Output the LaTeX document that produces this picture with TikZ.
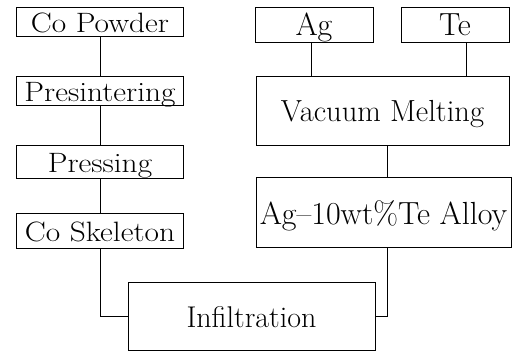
\documentclass[tikz,border=0pt]{standalone}
\usepackage{fontspec}
\usepackage{graphicx}
\newcommand\widetext[1]{\scalebox{1.12}[1]{#1}}
\newcommand\heavy{\addfontfeatures{FakeBold=0.5}}
\begin{document}
\begin{tikzpicture}[x=1pt,y=-1pt,line width=1pt,
  box/.style={draw,rectangle,inner sep=0pt,outer sep=0pt,text depth=0pt,text height=21pt},
  leftbox/.style={box,font=\fontsize{28}{30}\selectfont\heavy,minimum width=167pt},
  rightbox/.style={box,font=\fontsize{32}{34}\selectfont\heavy}]
\useasboundingbox (0,0) rectangle (515,351);

% Cobalt skeleton route
\node[leftbox,minimum height=29pt] (copowder) at (100,21.5) {\widetext{Co Powder}};
\node[leftbox,minimum height=29pt] (presinter) at (100,90.5) {\widetext{Presintering}};
\node[leftbox,minimum height=33pt] (pressing) at (100,161.5) {\widetext{Pressing}};
\node[leftbox,minimum height=35pt] (skeleton) at (100,230.5) {\widetext{Co\ Skeleton}};

% Alloy route
\node[rightbox,minimum width=118pt,minimum height=35pt] (ag) at (314,24.5) {Ag};
\node[rightbox,minimum width=108pt,minimum height=35pt] (te) at (455,24.5) {Te};
\node[rightbox,font=\fontsize{30.5}{32}\selectfont\heavy,minimum width=253pt,minimum height=69pt] (vacuum) at (382.5,110.5) {Vacuum Melting};
\node[rightbox,minimum width=255pt,minimum height=70pt,text height=24pt] (alloy) at (383.5,212) {Ag--10wt\%Te Alloy};

% Final step
\node[rightbox,font=\fontsize{30}{32}\selectfont\heavy,minimum width=247pt,minimum height=68pt,text height=22pt] (infil) at (251.5,316) {Infiltration};

% Connectors
\draw (copowder) -- (presinter);
\draw (presinter) -- (pressing);
\draw (pressing) -- (skeleton);
\draw (skeleton) |- (infil);

\coordinate (agfoot) at ([xshift=-3pt]ag.south);
\coordinate (tefoot) at ([xshift=11pt]te.south);
\coordinate (vacfoot) at ([xshift=4.5pt]vacuum.south);
\coordinate (alloyfoot) at ([xshift=3.5pt]alloy.south);
\draw (agfoot) -- (agfoot |- vacuum.north);
\draw (tefoot) -- (tefoot |- vacuum.north);
\draw (vacfoot) -- (vacfoot |- alloy.north);
\draw (alloyfoot) |- (infil.east);
\end{tikzpicture}
\end{document}
